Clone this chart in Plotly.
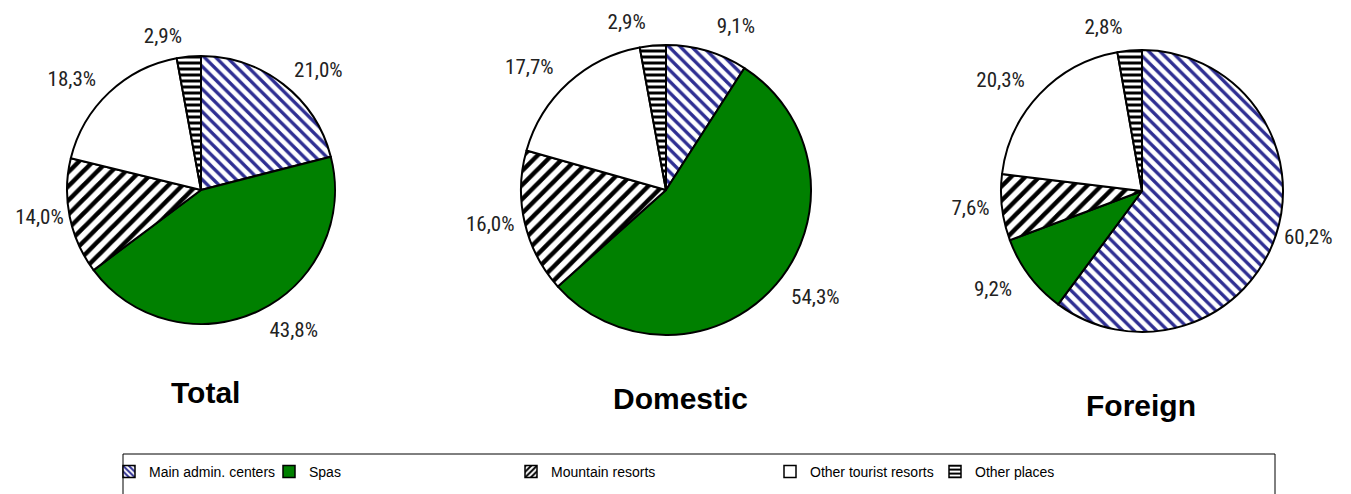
import plotly.graph_objects as go

W, H = 1351, 494

categories = ["Main admin. centers", "Spas", "Mountain resorts", "Other tourist resorts", "Other places"]
total_vals = [21.0, 43.8, 14.0, 18.3, 2.9]
domestic_vals = [9.1, 54.3, 16.0, 17.7, 2.9]
foreign_vals = [60.2, 9.2, 7.6, 20.3, 2.8]
pie_titles = ["Total", "Domestic", "Foreign"]

fill_colors = ["white", "#008000", "white", "white", "white"]
pat_shapes = ["\\", "", "/", "", "-"]
pat_fg = ["#2e2e92", "#008000", "black", "black", "black"]
pat_size = [8, 8, 10, 8, 6]
pat_solid = [0.42, 0.3, 0.45, 0.3, 0.5]

# pie geometry in pixels: center x, center y, radius
geo = [(201, 190, 134), (666, 190, 145), (1142, 191, 141)]
# how far each percentage label sits outside its slice (fraction of radius)
label_push = [
    [0.06, 0.08, 0.0, 0.075, 0.067],
    [0.097, 0.08, 0.03, 0.09, 0.083],
    [0.015, 0.10, 0.046, 0.085, 0.08],
]
title_pos = [(205, 392), (680, 398), (1141, 405)]

LABEL_FONT = dict(family="Liberation Sans Narrow, Arial Narrow, Roboto Condensed, sans-serif",
                  size=21, color="#222222")


def fmt(v):
    return f"{v:.1f}".replace(".", ",") + "%"


def dom(cx, cy, half):
    return dict(x=[(cx - half) / W, (cx + half) / W], y=[1 - (cy + half) / H, 1 - (cy - half) / H])


fig = go.Figure()
for vals, (cx, cy, r), push in zip([total_vals, domestic_vals, foreign_vals], geo, label_push):
    # the pie itself
    fig.add_trace(go.Pie(
        labels=categories, values=vals,
        textinfo="none", sort=False, direction="clockwise", rotation=0,
        showlegend=False, hoverinfo="label+percent",
        marker=dict(colors=fill_colors,
                    line=dict(color="black", width=2),
                    pattern=dict(shape=pat_shapes, fgcolor=pat_fg, bgcolor=fill_colors,
                                 size=pat_size, solidity=pat_solid,
                                 fillmode="replace", fgopacity=1)),
        domain=dom(cx, cy, r),
    ))
    # transparent twin carrying the outside percentage labels
    fig.add_trace(go.Pie(
        labels=categories, values=vals,
        text=[fmt(v) for v in vals], textinfo="text", textposition="outside",
        sort=False, direction="clockwise", rotation=0, pull=push,
        showlegend=False, hoverinfo="skip",
        textfont=LABEL_FONT,
        marker=dict(colors=["rgba(0,0,0,0)"] * 5, line=dict(width=0)),
        domain=dom(cx, cy, r * (1 + max(push))),
    ))

# legend entries (dummy bars, one legend each so positions can match the reference)
legend_x = [109, 269, 511, 770, 935]
for i, cat in enumerate(categories):
    lname = "legend" if i == 0 else f"legend{i+1}"
    fig.add_trace(go.Bar(
        x=[None], y=[None], name=cat, legend=lname, showlegend=True,
        marker=dict(color=fill_colors[i], line=dict(color="black", width=1.5),
                    pattern=dict(shape=pat_shapes[i], fgcolor=pat_fg[i], bgcolor=fill_colors[i],
                                 size=5, solidity=0.5, fillmode="replace", fgopacity=1)),
    ))

legend_common = dict(orientation="h", yanchor="middle", y=1 - 472 / H, xanchor="left",
                     bgcolor="rgba(0,0,0,0)", borderwidth=0,
                     font=dict(family="Liberation Sans, Arial, sans-serif", size=14, color="black"))
layout_legends = {}
for i, lx in enumerate(legend_x):
    lname = "legend" if i == 0 else f"legend{i+1}"
    layout_legends[lname] = dict(x=lx / W, **legend_common)

annotations = []
for t, (tx, ty) in zip(pie_titles, title_pos):
    annotations.append(dict(text=f"<b>{t}</b>", x=tx / W, y=1 - ty / H, xref="paper", yref="paper",
                            showarrow=False, xanchor="center", yanchor="middle",
                            font=dict(family="Liberation Sans, Arial, sans-serif", size=30, color="black")))

fig.update_layout(
    width=W, height=H,
    margin=dict(l=0, r=0, t=0, b=0, autoexpand=False),
    paper_bgcolor="white", plot_bgcolor="white",
    xaxis=dict(visible=False, domain=[0, 0.01]), yaxis=dict(visible=False, domain=[0, 0.01]),
    annotations=annotations,
    shapes=[dict(type="rect", xref="paper", yref="paper",
                 x0=123 / W, x1=1275 / W, y0=-0.05, y1=1 - 454 / H,
                 line=dict(color="black", width=1), fillcolor="rgba(0,0,0,0)")],
    **layout_legends,
)

fig.write_html("out.html")
